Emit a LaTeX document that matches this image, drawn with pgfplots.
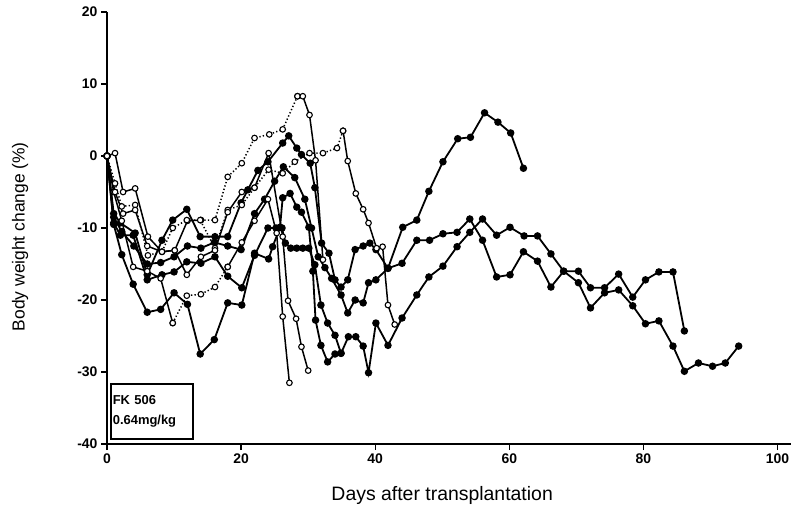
\documentclass[border=0pt]{standalone}
\usepackage{fontspec}
\setmainfont{Liberation Sans}
\usepackage{pgfplots}
\pgfplotsset{compat=1.18}
\pgfplotsset{
  fl/.style={black, line width=1.8bp, mark=*, mark size=2.8bp, mark options={solid, fill=black}},
  op/.style={black, line width=1.5bp, mark=*, mark size=2.8bp, mark options={solid, fill=white, line width=1.1bp}},
  dt/.style={op, dash pattern=on 1.3bp off 2.2bp},
}
\begin{document}
\begin{tikzpicture}
\path[use as bounding box] (-107bp,-71bp) rectangle (693bp,444bp);
\begin{axis}[
  at={(0,0)}, anchor=south west,
  scale only axis, width=684bp, height=432bp,
  xmin=0, xmax=102, ymin=-40, ymax=20,
  axis x line*=bottom, axis y line*=left,
  axis line style={line width=1.5bp},
  xtick={0,20,...,100}, ytick={-40,-30,...,20},
  tick align=outside, major tick length=6bp,
  tick style={line width=1.3bp, black},
  ticklabel style={font=\bfseries\fontsize{14}{16}\selectfont},
  /pgf/number format/assume math mode=true,
  xlabel={Days after transplantation},
  ylabel={Body weight change (\%)},
  xlabel style={font=\fontsize{19.5}{21}\selectfont, at={(axis description cs:0.49,0)}, anchor=center, yshift=-51bp},
  ylabel style={font=\fontsize{17.5}{20}\selectfont, at={(axis description cs:0,0.48)}, anchor=center, yshift=87bp},
  clip=false,
]
% filled, ends day 62
\addplot[fl] coordinates {(0,0) (1,-8) (2,-9.3) (4.2,-10.7) (6,-16.5) (8.2,-11.7) (9.8,-8.9) (11.9,-7.4) (13.9,-11.2) (16.1,-11.2) (18,-11.2) (20,-6.5) (21,-4.7) (22.5,-2) (24,-0.8) (26.2,1.8) (27.1,2.8) (28.3,1.1) (29,0.2) (30.3,-1) (31,-4.4) (32,-12.1) (33.1,-13.5) (34,-17.2) (34.9,-18.2) (35.9,-17.2) (37,-13) (38.2,-12.5) (39.2,-12.1) (40.1,-13) (41.9,-15.6) (44.1,-9.9) (46.2,-8.9) (48,-4.9) (50.1,-0.8) (52.3,2.4) (54.2,2.6) (56.3,6) (58.3,4.7) (60.2,3.2) (62.1,-1.7)};
% filled, ends day 86
\addplot[fl] coordinates {(0,0) (1,-9.5) (2.2,-13.7) (3.9,-17.8) (6,-21.7) (8,-21.3) (10,-19) (12,-20.6) (13.9,-27.5) (16,-25.5) (18,-20.4) (20.1,-20.7) (22,-13.5) (24.1,-14.3) (24.7,-12.6) (25.8,-9.9) (26.2,-5.8) (27.3,-5.2) (28.3,-7.1) (29,-7.8) (30.1,-9.9) (30.7,-16) (31.1,-22.8) (31.9,-26.3) (32.9,-28.6) (34,-27.5) (34.9,-27.4) (36,-25.1) (37.1,-25.1) (38.2,-26.4) (39,-30.1) (40.1,-23.2) (41.9,-26.3) (44,-22.5) (46.2,-19.3) (48,-16.8) (50.1,-15.3) (52.2,-12.6) (54.1,-10.6) (56,-8.75) (58.1,-11) (60.1,-9.9) (62.2,-11.1) (64.2,-11.1) (66.2,-13.6) (68.1,-16) (70.3,-16) (72.1,-18.3) (74.2,-18.3) (76.3,-16.4) (78.4,-19.6) (80.3,-17.2) (82.3,-16.1) (84.4,-16.1) (86.1,-24.3)};
% filled, ends day 35
\addplot[fl] coordinates {(0,0) (1,-9.3) (2,-11) (3.9,-11) (6,-17.2) (8.2,-16.5) (10,-16.1) (11.9,-14.7) (14,-14.9) (16.1,-14) (18,-16.7) (20.1,-18.3) (22,-13.8) (24,-10) (25.2,-10) (26.1,-10) (26.6,-12.1) (27.4,-12.8) (28.3,-12.8) (29.2,-12.8) (30.1,-12.8) (31,-15.1) (31.9,-20.7) (32.9,-23.2) (34,-24.9) (34.9,-27.4)};
% filled, ends day 94
\addplot[fl] coordinates {(0,0) (1,-8.5) (2.2,-10.5) (4,-12.5) (6,-15) (8,-14.8) (10,-14) (12,-12.5) (14,-12.8) (16,-12) (18,-12.5) (20,-13) (22,-8) (23.5,-6) (25,-3.5) (26.3,-1.5) (28,-3) (29.5,-6) (30.5,-10) (31.5,-14) (32.5,-15.5) (33.5,-17) (34.9,-19.3) (35.9,-21.8) (37,-20) (38.2,-20.4) (39,-17.6) (40.1,-17.2) (41.9,-15.6) (44,-14.9) (46.2,-11.7) (48.1,-11.7) (50.1,-10.8) (52.2,-10.6) (54.1,-8.75) (56,-11.7) (58.1,-16.8) (60.1,-16.5) (62.1,-13.3) (64.2,-14.6) (66.2,-18.2) (68.1,-16) (70.3,-17.6) (72.1,-21.1) (74.2,-19) (76.3,-18.6) (78.4,-20.8) (80.3,-23.3) (82.3,-22.9) (84.4,-26.4) (86.1,-29.9) (88.2,-28.75) (90.3,-29.2) (92.2,-28.75) (94.2,-26.4)};
% open, peak day 29
\addplot[op] coordinates {(0,0) (1.2,0.4) (2.4,-5) (4.2,-4.5) (6.1,-11.2) (8.2,-13.3) (10.1,-13.1) (12,-9) (14,-8.9)};
\addplot[dt] coordinates {(14,-8.9) (16.1,-8.9) (18,-2.9) (20.1,-1) (22,2.5) (24.2,3) (26.2,3.7) (28.4,8.3)};
\addplot[op] coordinates {(28.4,8.3) (29.2,8.3) (30.2,5.7) (31.1,-0.6) (32.2,-14.4)};
% open, peak day 35
\addplot[dt] coordinates {(0,0) (1.2,-3.8) (2.2,-7) (4.2,-6.8) (6.1,-13.8) (8.2,-13.3) (9.8,-10) (11.9,-8.9) (13.9,-8.9) (16.1,-12.8) (18,-7.5) (20.1,-6.8) (22,-4.4) (24.1,-1.9) (26.2,-2.4) (28,-0.8) (30.2,0.4) (32.2,0.4) (34.3,1.1) (35.2,3.5)};
\addplot[op] coordinates {(35.2,3.5) (35.9,-0.7) (37.1,-5.2) (38.2,-7.4) (39,-9.3) (40.2,-12.8) (41.1,-12.6) (41.9,-20.7) (42.9,-23.4)};
% open, ends day 27
\addplot[op] coordinates {(0,0) (1,-5) (2.2,-9) (3.9,-15.4) (6,-16) (8,-17) (9.8,-23.2)};
\addplot[dt] coordinates {(9.8,-23.2) (11.9,-19.4) (14,-19.2) (16.1,-18.2) (18,-15.4)};
\addplot[op] coordinates {(18,-15.4) (20.1,-12) (22,-9) (24,-6) (25.3,-10.7) (26.2,-22.3) (27.2,-31.5)};
% open, ends day 30
\addplot[op] coordinates {(0,0) (1.2,-5) (2.4,-8) (4.2,-7.5) (6,-12.5) (8.2,-13.3) (10.1,-13.1) (11.9,-16.5) (14,-14) (16.1,-13.1) (18,-7.8) (20.1,-5) (22,-4.4) (24.1,0.4) (26.2,-11.2) (27,-20.1) (28.2,-22.6) (29,-26.5) (30,-29.8)};
\node[draw, line width=1.6bp, anchor=south west, align=left, inner sep=2bp,
  font=\bfseries\fontsize{13}{21}\selectfont, minimum width=82bp, minimum height=55bp, text width=78bp]
  at (axis cs:0.45,-39.4) {FK 506\\0.64mg/kg};
\end{axis}
\end{tikzpicture}
\end{document}
